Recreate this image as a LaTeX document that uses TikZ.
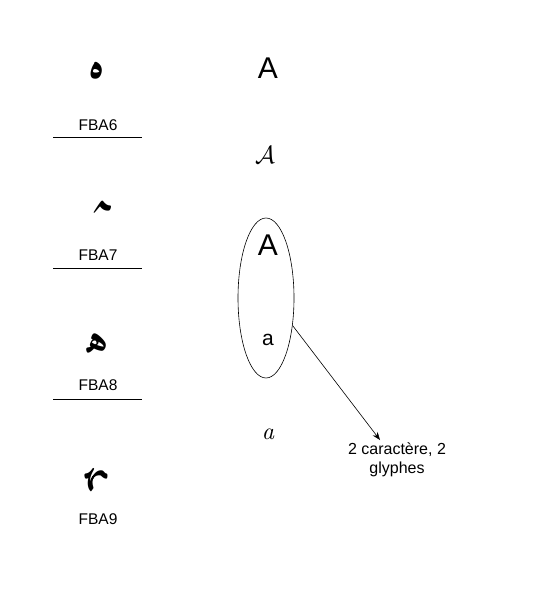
\documentclass[tikz,border=0pt]{standalone}
\usepackage{fontspec}
\setmainfont{Liberation Sans}
\newfontfamily\lmit{lmroman10-italic.otf}
\TeXXeTstate=1
\IfFontExistsTF{Amiri}
  {\newfontfamily\arabicfont[Script=Arabic]{Amiri}}
  {\IfFontExistsTF{amiri-regular.ttf}
     {\newfontfamily\arabicfont[Script=Arabic]{amiri-regular.ttf}}
     {\newfontfamily\arabicfont[Script=Arabic]{DejaVu Sans}}}
\usetikzlibrary{shapes.geometric,arrows.meta}
\begin{document}
\begin{tikzpicture}[x=1pt,y=-1pt,
  code/.style={font=\fontsize{15.5}{17}\selectfont, inner sep=0pt},
  glyph/.style={font=\arabicfont\bfseries\fontsize{44}{46}\selectfont, inner sep=0pt, anchor=base},
  bigA/.style={font=\fontsize{30}{32}\selectfont, inner sep=0pt},
  rule/.style={line width=0.6pt},
  lbl/.style={font=\fontsize{16}{19}\selectfont, align=center, inner sep=0pt}]
\useasboundingbox (0,0) rectangle (544,599);
% left column
\node[glyph] (g1) at (97,78) {\beginR ^^^^fba6\endR};
\node[code] (c1) at (98,125) {FBA6};
\coordinate (l1a) at (53,137); \coordinate (l1b) at (142,137);
\draw[rule] (l1a) -- (l1b);
\node[glyph] (g2) at (100,210) {\beginR ^^^^fba7\endR};
\node[code] (c2) at (98,255) {FBA7};
\coordinate (l2a) at (53,268); \coordinate (l2b) at (142,268);
\draw[rule] (l2a) -- (l2b);
\node[glyph] (g3) at (98,352) {\beginR ^^^^fba8\endR};
\node[code] (c3) at (98,385) {FBA8};
\coordinate (l3a) at (53,399); \coordinate (l3b) at (142,399);
\draw[rule] (l3a) -- (l3b);
\node[glyph] (g4) at (97,478) {\beginR ^^^^fba9\endR};
\node[code] (c4) at (98,519) {FBA9};
% middle column
\node[bigA] (a1) at (268,68) {A};
\node[inner sep=0pt, font=\fontsize{26}{28}\selectfont] (a2) at (265,155) {$\mathcal{A}$};
\node[draw, ellipse, minimum width=56, minimum height=160, line width=0.6pt] (ell) at (266,298) {};
\node[bigA] (a3) at (268,245) {A};
\node[inner sep=0pt, font=\fontsize{21}{23}\selectfont] (a4) at (268,340) {a};
\node[inner sep=0pt, font=\lmit\fontsize{24}{26}\selectfont] (a5) at (268,434) {a};
% arrow and label
\node[lbl] (t) at (397,460) {2 caractère, 2\\glyphes};
\coordinate (tip) at (380,440);
\draw[-{Stealth[length=8pt,width=6pt]}, line width=0.6pt] (ell.-46) -- (tip);
\end{tikzpicture}
\end{document}
